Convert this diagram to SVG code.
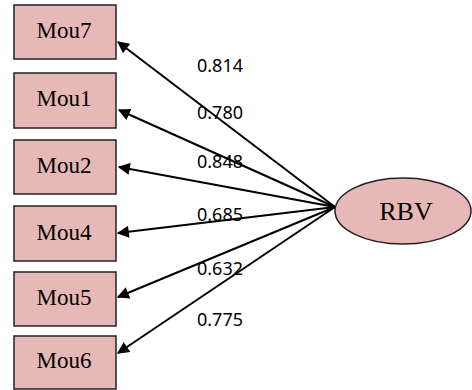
<svg xmlns="http://www.w3.org/2000/svg" width="472" height="390" viewBox="0 0 472 390">
<style>
.box{fill:#e6b8b7;stroke:#222;stroke-width:1.5}
.lbl{font-family:"Liberation Serif",serif;font-size:23px;fill:#000;text-anchor:middle}
.num{font-family:"Noto Sans","Open Sans",sans-serif;font-size:18px;fill:#000}
.ln{stroke:#000;stroke-width:2;fill:none;marker-end:url(#ah)}
</style>
<defs>
<marker id="ah" viewBox="0 0 10 10" refX="9" refY="5" markerWidth="8" markerHeight="6" orient="auto" markerUnits="strokeWidth">
<path d="M0,0 L10,5 L0,10 z" fill="#000"/>
</marker>
</defs>
<rect width="472" height="390" fill="#fff"/>
<g id="connectors">
<line class="ln" x1="335" y1="207" x2="118" y2="42"/>
<line class="ln" x1="335" y1="207" x2="119" y2="110"/>
<line class="ln" x1="335" y1="207" x2="119" y2="167"/>
<line class="ln" x1="335" y1="207" x2="118" y2="233"/>
<line class="ln" x1="335" y1="207" x2="118" y2="297"/>
<line class="ln" x1="335" y1="207" x2="118" y2="353"/>
</g>
<g id="labels">
<text class="num" x="197" y="72">0.814</text>
<text class="num" x="197" y="119">0.780</text>
<text class="num" x="197" y="168">0.848</text>
<text class="num" x="197" y="221">0.685</text>
<text class="num" x="197" y="275">0.632</text>
<text class="num" x="197" y="326">0.775</text>
</g>
<g id="Mou7"><rect class="box" x="14" y="5" width="102" height="54"/><text class="lbl" x="64" y="38">Mou7</text></g>
<g id="Mou1"><rect class="box" x="14" y="73" width="102" height="55"/><text class="lbl" x="64" y="106">Mou1</text></g>
<g id="Mou2"><rect class="box" x="14" y="140" width="102" height="54"/><text class="lbl" x="64" y="173">Mou2</text></g>
<g id="Mou4"><rect class="box" x="14" y="206" width="102" height="55"/><text class="lbl" x="64" y="240">Mou4</text></g>
<g id="Mou5"><rect class="box" x="14" y="272" width="102" height="54"/><text class="lbl" x="64" y="305">Mou5</text></g>
<g id="Mou6"><rect class="box" x="14" y="336" width="102" height="53"/><text class="lbl" x="64" y="368">Mou6</text></g>
<g id="RBV"><ellipse class="box" cx="403" cy="211" rx="68" ry="33"/><text class="lbl" x="406" y="220" style="font-size:26px">RBV</text></g>
</svg>
